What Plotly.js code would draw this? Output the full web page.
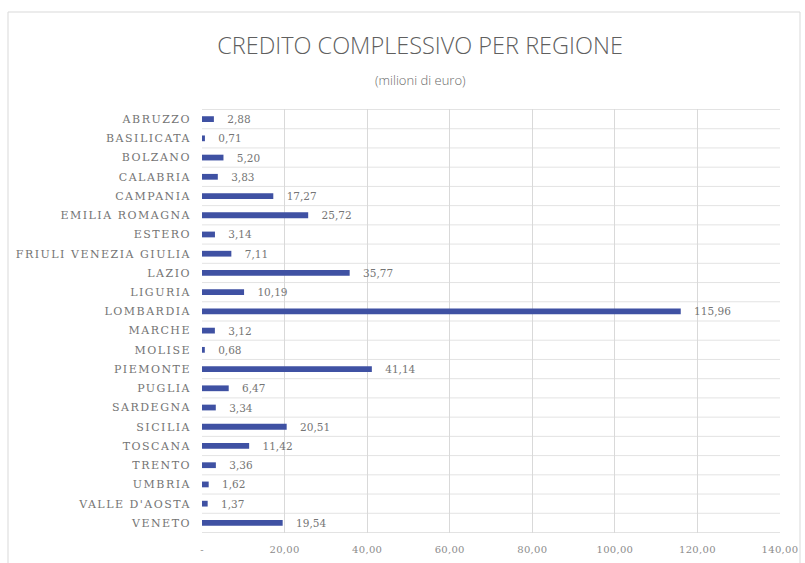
<!DOCTYPE html>
<html>
<head>
<meta charset="utf-8">
<script src="https://cdn.plot.ly/plotly-3.0.1.min.js"></script>
<style>
html,body{margin:0;padding:0;background:#fff;}
#chart{width:805px;height:563px;}
#chart .ytick text{letter-spacing:1.5px;}
#chart .xtick text{letter-spacing:0.3px;}
</style>
</head>
<body>
<div id="chart"></div>
<script>
const regions = ["ABRUZZO","BASILICATA","BOLZANO","CALABRIA","CAMPANIA","EMILIA ROMAGNA","ESTERO","FRIULI VENEZIA GIULIA","LAZIO","LIGURIA","LOMBARDIA","MARCHE","MOLISE","PIEMONTE","PUGLIA","SARDEGNA","SICILIA","TOSCANA","TRENTO","UMBRIA","VALLE D'AOSTA","VENETO"];
const credito = [2.88,0.71,5.20,3.83,17.27,25.72,3.14,7.11,35.77,10.19,115.96,3.12,0.68,41.14,6.47,3.34,20.51,11.42,3.36,1.62,1.37,19.54];
const xTickVals = [0,20,40,60,80,100,120,140];
const xTickText = ["-","20,00","40,00","60,00","80,00","100,00","120,00","140,00"];

const labels = credito.map(v => "\u00a0\u00a0\u00a0\u00a0" + v.toFixed(2).replace(".", ","));

const trace = {
  type: "bar",
  orientation: "h",
  y: regions,
  x: credito,
  text: labels,
  textposition: "outside",
  constraintext: "none",
  cliponaxis: false,
  textfont: {family: "DejaVu Serif, serif", size: 10.5, color: "#757575"},
  marker: {color: "#3f51a3"},
  hoverinfo: "x+y"
};

const L = 202, R = 780, T = 109, B = 533;
const pw = R - L, ph = B - T;
function px2x(p){ return (p - L) / pw; }
function py2y(p){ return (B - p) / ph; }

const layout = {
  width: 805, height: 563,
  margin: {l: L, r: 805 - R, t: T, b: 563 - B, pad: 0},
  paper_bgcolor: "#ffffff",
  plot_bgcolor: "#ffffff",
  showlegend: false,
  bargap: 0.7,
  title: {
    text: "CREDITO COMPLESSIVO PER REGIONE",
    font: {family: "Open Sans, sans-serif", size: 23.5, weight: 300, color: "#5f5f5f"},
    x: 420/805, xanchor: "center",
    y: 1 - 46/563, yanchor: "middle"
  },
  annotations: [{
    text: "(milioni di euro)",
    xref: "paper", yref: "paper",
    x: px2x(420), y: py2y(80),
    xanchor: "center", yanchor: "middle",
    showarrow: false,
    font: {family: "Open Sans, sans-serif", size: 13, weight: 300, color: "#6a6a6a"}
  }],
  shapes: [{
    type: "rect", xref: "paper", yref: "paper",
    x0: px2x(8), x1: px2x(800), y0: py2y(580), y1: py2y(12),
    line: {color: "#d9d9d9", width: 1}, fillcolor: "rgba(0,0,0,0)", layer: "below"
  }],
  xaxis: {
    range: [0, 140],
    tickvals: xTickVals,
    ticktext: xTickText,
    showgrid: true,
    gridcolor: "#d9d9d9",
    gridwidth: 1,
    zeroline: false,
    showline: false,
    ticks: "",
    ticklabelstandoff: 9,
    tickfont: {family: "DejaVu Serif, serif", size: 10, color: "#8c8c8c"},
    fixedrange: true
  },
  yaxis: {
    autorange: "reversed",
    type: "category",
    showgrid: false,
    zeroline: false,
    showline: false,
    ticks: "",
    ticklabelstandoff: 10,
    tickfont: {family: "DejaVu Serif, serif", size: 11, color: "#747474"},
    fixedrange: true
  }
};

// horizontal separators between categories
for (let i = 0; i <= regions.length; i++) {
  layout.shapes.push({
    type: "line", xref: "paper", yref: "y",
    x0: 0, x1: 1, y0: i - 0.5, y1: i - 0.5,
    line: {color: "#e3e3e3", width: 1}, layer: "below"
  });
}

Plotly.newPlot("chart", [trace], layout, {displayModeBar: false, staticPlot: true});
</script>
</body>
</html>
